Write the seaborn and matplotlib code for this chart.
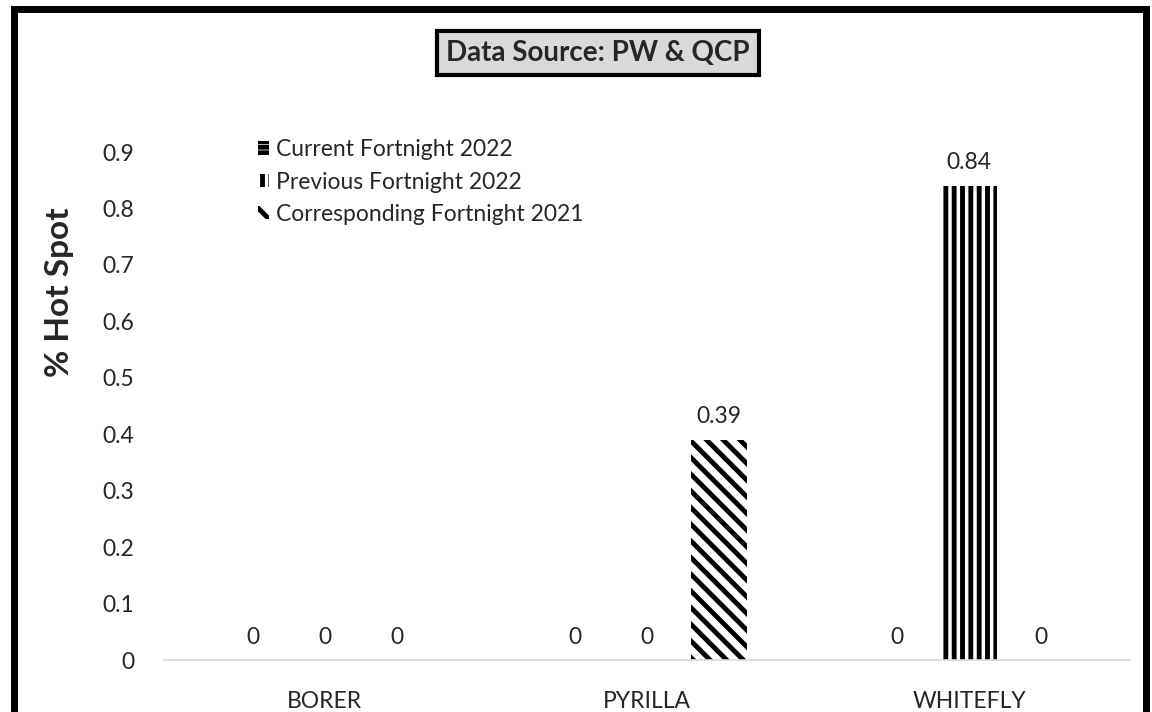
import pandas as pd
import numpy as np
import matplotlib
matplotlib.use('Agg')
import matplotlib.pyplot as plt
import seaborn as sns
from matplotlib.patches import Rectangle

# data
pests = ['BORER', 'PYRILLA', 'WHITEFLY']
series_names = ['Current Fortnight 2022', 'Previous Fortnight 2022', 'Corresponding Fortnight 2021']
current_2022 = [0, 0, 0]
previous_2022 = [0, 0, 0.84]
corresponding_2021 = [0, 0.39, 0]
y_ticks = [0, 0.1, 0.2, 0.3, 0.4, 0.5, 0.6, 0.7, 0.8, 0.9]

df = pd.DataFrame({'pest': pests * 3,
                   'series': [s for s in series_names for _ in pests],
                   'value': current_2022 + previous_2022 + corresponding_2021})

sns.set_style('white')
plt.rcParams['font.family'] = ['Lato', 'DejaVu Sans']
plt.rcParams['hatch.linewidth'] = 3.5

fig = plt.figure(figsize=(11.52, 7.12), dpi=100)
ax = fig.add_axes([0.142, 0.073, 0.839, 0.7135])

sns.barplot(data=df, x='pest', y='value', hue='series', hue_order=series_names,
            palette=['white'] * 3, width=0.67, gap=0.22, edgecolor='black',
            linewidth=0, errorbar=None, ax=ax)

hatches = ['---', '||', '\\\\']
for cont, h in zip(ax.containers, hatches):
    for bar in cont:
        bar.set_hatch(h)
        bar.set_edgecolor('black')
        bar.set_linewidth(0)
    ax.bar_label(cont, labels=[f'{v:g}' for v in cont.datavalues], padding=9, fontsize=16.5)

ax.set_ylim(0, 0.9)
ax.set_yticks(y_ticks)
ax.set_yticklabels([f'{t:g}' for t in y_ticks], fontsize=16.5)
ax.set_xlim(-0.5, 2.5)
ax.set_xlabel('')
ax.set_ylabel('')
ax.tick_params(axis='y', length=0, pad=21)
ax.tick_params(axis='x', length=0, pad=22, labelsize=16.5)
for s in ['top', 'right', 'left']:
    ax.spines[s].set_visible(False)
ax.spines['bottom'].set_color('#d9d9d9')
ax.spines['bottom'].set_linewidth(1.2)

handles, labels = ax.get_legend_handles_labels()
for hd, h in zip(handles, hatches):
    hd.set_hatch(h)
    hd.set_edgecolor('black')
    hd.set_linewidth(0)
ax.legend(handles, labels, loc='upper left', bbox_to_anchor=(0.076, 1.066), frameon=False,
          fontsize=16.5, handlelength=0.5, handleheight=0.5, handletextpad=0.3, labelspacing=0.5)

fig.text(0.052, 0.59, '% Hot Spot', rotation=90, fontsize=24, fontweight='bold',
         ha='center', va='center')

fig.text(0.519, 0.9256, 'Data Source: PW & QCP', fontsize=20, fontweight='bold',
         ha='center', va='center',
         bbox=dict(boxstyle='square,pad=0.33', facecolor='#d9d9d9', edgecolor='black', linewidth=3))

# outer frame (bottom edge cut off in the picture)
fig.patches.append(Rectangle((0.012, -0.1), 0.983, 1.088, transform=fig.transFigure,
                             fill=False, edgecolor='black', linewidth=5))

fig.savefig('out.png', dpi=100)
